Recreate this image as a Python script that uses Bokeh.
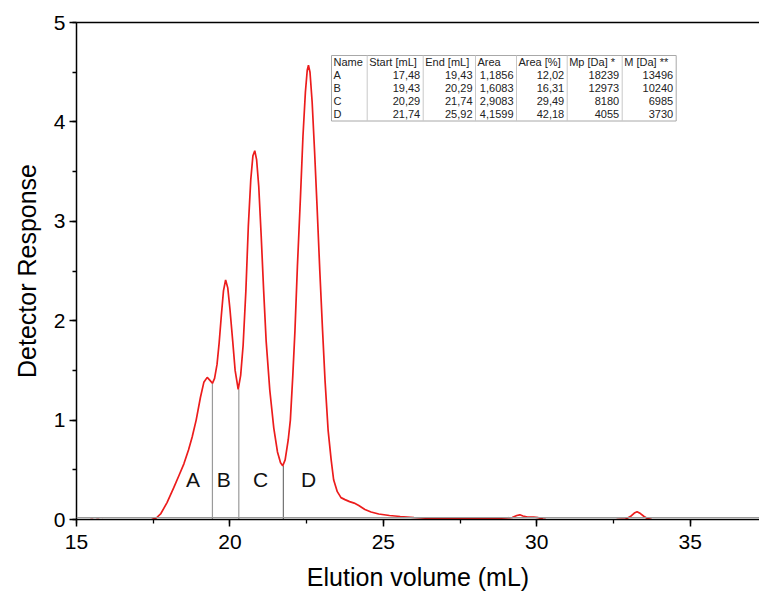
from bokeh.plotting import figure
from bokeh.models import Range1d, LinearAxis, SingleIntervalTicker, FixedTicker, Span
from bokeh.core.properties import value
from bokeh.embed import file_html
from bokeh.resources import INLINE

# ---------------- data ----------------
elution_ml = [17.45, 17.6, 17.75, 17.95, 18.17, 18.35, 18.5, 18.65, 18.77, 18.9,
              19.04, 19.15, 19.26, 19.35, 19.43, 19.5, 19.58, 19.65, 19.72, 19.79,
              19.86, 19.93, 20.0, 20.09, 20.17, 20.27, 20.35, 20.43, 20.52, 20.6,
              20.68, 20.75, 20.81, 20.87, 20.94, 21.02, 21.1, 21.18, 21.3, 21.43,
              21.55, 21.65, 21.72, 21.8, 21.9, 21.97, 22.05, 22.12, 22.2, 22.3,
              22.38, 22.46, 22.52, 22.56, 22.61, 22.68, 22.76, 22.84, 22.93, 23.02,
              23.1, 23.2, 23.3, 23.38, 23.5, 23.62, 23.75, 23.9, 24.05, 24.2,
              24.4, 24.6, 24.85, 25.2, 25.55, 26.0, 26.5, 27.0, 27.5, 28.0,
              28.4, 28.7, 29.0, 29.2, 29.35, 29.45, 29.55, 29.7, 29.9, 30.05,
              30.2, 30.3]
response = [0.0, 0.015, 0.06, 0.17, 0.32, 0.45, 0.56, 0.70, 0.83, 1.0,
            1.23, 1.38, 1.43, 1.40, 1.37, 1.42, 1.56, 1.78, 2.05, 2.30,
            2.41, 2.33, 2.12, 1.80, 1.50, 1.31, 1.45, 1.75, 2.30, 2.95,
            3.42, 3.66, 3.71, 3.62, 3.35, 2.85, 2.30, 1.80, 1.30, 0.92,
            0.68, 0.57, 0.54, 0.60, 0.80, 1.0, 1.45, 1.90, 2.55, 3.25,
            3.85, 4.30, 4.52, 4.57, 4.50, 4.20, 3.70, 3.15, 2.50, 1.90,
            1.40, 0.90, 0.60, 0.40, 0.28, 0.22, 0.20, 0.18, 0.165, 0.14,
            0.10, 0.075, 0.055, 0.04, 0.03, 0.02, 0.012, 0.008, 0.008, 0.012,
            0.015, 0.012, 0.015, 0.02, 0.04, 0.047, 0.035, 0.025, 0.025, 0.018,
            0.005, 0.0]

late_ml = [32.6, 32.9, 33.05, 33.18, 33.27, 33.38, 33.5, 33.62, 33.75]
late_resp = [0.0, 0.005, 0.03, 0.065, 0.078, 0.06, 0.03, 0.008, 0.0]

noise_ml = [15.45, 15.85]
noise_resp = [0.004, 0.004]

peak_names = ["A", "B", "C", "D"]
start_ml = [17.48, 19.43, 20.29, 21.74]
end_ml = [19.43, 20.29, 21.74, 25.92]
area = [1.1856, 1.6083, 2.9083, 4.1599]
area_pct = [12.02, 16.31, 29.49, 42.18]
mp_da = [18239, 12973, 8180, 4055]
m_da = [13496, 10240, 6985, 3730]

cut_ml = [19.43, 20.29, 21.74]
cut_resp = [1.37, 1.31, 0.54]

table_headers = ["Name", "Start [mL]", "End [mL]", "Area", "Area [%]", "Mp [Da] *", "M [Da] **"]

# ---------------- layout ----------------
W, H = 759, 599
LEFT, RIGHT, TOP, BOTTOM = 76, 0, 22, 80
FRAME_W = W - LEFT - RIGHT
FRAME_H = H - TOP - BOTTOM
X0, X1, Y0, Y1 = 15.0, 37.26, 0.0, 5.0


def dx(px):
    return X0 + px * (X1 - X0) / FRAME_W


def dy(py):
    return Y1 - py * (Y1 - Y0) / FRAME_H


FONT = "Liberation Sans"

p = figure(width=W, height=H, x_range=Range1d(X0, X1), y_range=Range1d(Y0, Y1),
           output_backend="svg", toolbar_location=None,
           min_border_left=LEFT, min_border_right=RIGHT,
           min_border_top=TOP, min_border_bottom=BOTTOM)
p.outline_line_color = None
p.grid.visible = False
p.background_fill_color = "white"
p.border_fill_color = "white"

p.xaxis.ticker = SingleIntervalTicker(interval=5, num_minor_ticks=2)
p.yaxis.ticker = SingleIntervalTicker(interval=1, num_minor_ticks=2)
for ax in (p.xaxis[0], p.yaxis[0]):
    ax.axis_line_width = 1.5
    ax.axis_line_color = "black"
    ax.major_tick_line_width = 1.5
    ax.minor_tick_line_width = 1.3
    ax.major_tick_in = 0
    ax.major_tick_out = 7
    ax.minor_tick_in = 0
    ax.minor_tick_out = 4
    ax.major_label_text_font = FONT
    ax.major_label_text_font_size = "21px"
    ax.major_label_text_color = "black"
    ax.axis_label_text_font = FONT
    ax.axis_label_text_font_size = "25px"
    ax.axis_label_text_font_style = "normal"
    ax.axis_label_text_color = "black"

p.xaxis.axis_label = "Elution volume (mL)"
p.xaxis.major_label_standoff = 8
p.xaxis.axis_label_standoff = 11
p.yaxis.axis_label = "Detector Response"
p.yaxis.major_label_standoff = 4
p.yaxis.axis_label_standoff = 10

top_axis = LinearAxis(ticker=FixedTicker(ticks=[], minor_ticks=[]),
                      axis_line_width=1.5, axis_line_color="black",
                      major_tick_line_color=None, minor_tick_line_color=None,
                      major_label_text_font_size="0px")
p.add_layout(top_axis, "above")

# baseline just above the axis
p.add_layout(Span(location=0.02, dimension="width", line_color="#9a9a9a", line_width=1))

# peak cut lines
p.segment(x0=cut_ml[:2], y0=[0, 0], x1=cut_ml[:2], y1=cut_resp[:2],
          line_color="#9a9a9a", line_width=1.2)
p.segment(x0=cut_ml[2:], y0=[0], x1=cut_ml[2:], y1=cut_resp[2:],
          line_color="#555555", line_width=1)

# trace
RED = "#ec1c1c"
p.line(elution_ml, response, line_color=RED, line_width=1.7)
p.line(late_ml, late_resp, line_color=RED, line_width=1.7)
p.line(noise_ml, noise_resp, line_color=RED, line_width=1.2, line_alpha=0.6, line_dash="3 3")

# region letters
label_x = [18.8, 19.8, 21.0, 22.56]
p.text(x=label_x, y=[0.4] * 4, text=peak_names, text_font=value(FONT),
       text_font_size="21px", text_align="center", text_baseline="middle",
       text_color="#111111")

# ---------------- results table ----------------
col_px = [255, 290.7, 346.7, 399, 440, 490.7, 545.7, 599.7]
tab_top = 33
row_h = 13.1
n_rows = len(peak_names) + 1
tab_bottom = tab_top + row_h * n_rows

p.quad(left=[dx(col_px[0])], right=[dx(col_px[-1])], top=[dy(tab_top)],
       bottom=[dy(tab_bottom)], fill_color="white", line_color="#a8a8a8", line_width=1)
inner = col_px[1:-1]
p.segment(x0=[dx(c) for c in inner], y0=[dy(tab_top)] * len(inner),
          x1=[dx(c) for c in inner], y1=[dy(tab_bottom)] * len(inner),
          line_color="#c8c8c8", line_width=1)


def row_y(i):
    return dy(tab_top + row_h * (i + 0.5))


def fmt(v, d):
    return f"{v:.{d}f}".replace(".", ",")


lx, ly, lt = [], [], []
for j, h in enumerate(table_headers):
    lx.append(dx(col_px[j] + 2))
    ly.append(row_y(0))
    lt.append(h)
for i, n in enumerate(peak_names):
    lx.append(dx(col_px[0] + 2))
    ly.append(row_y(i + 1))
    lt.append(n)

rx, ry, rt = [], [], []
for i in range(len(peak_names)):
    cells = [fmt(start_ml[i], 2), fmt(end_ml[i], 2), fmt(area[i], 4),
             fmt(area_pct[i], 2), str(mp_da[i]), str(m_da[i])]
    for j, c in enumerate(cells):
        rx.append(dx(col_px[j + 2] - 3))
        ry.append(row_y(i + 1))
        rt.append(c)

p.text(x=lx, y=ly, text=lt, text_font=value(FONT), text_font_size="11px",
       text_align="left", text_baseline="middle", text_color="#222222")
p.text(x=rx, y=ry, text=rt, text_font=value(FONT), text_font_size="11px",
       text_align="right", text_baseline="middle", text_color="#222222")

open("out.html", "w").write(file_html(p, INLINE))
